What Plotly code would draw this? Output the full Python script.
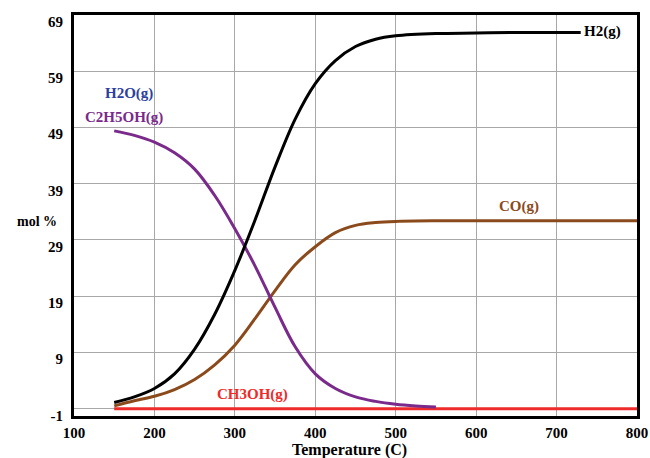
import plotly.graph_objects as go

# ---- data ----
T_H2 = [150, 175, 200, 225, 250, 275, 300, 325, 350, 375, 400, 425, 450, 475, 500, 550, 600, 650, 730]
H2 = [0.1, 1.1, 2.6, 5.2, 9.6, 15.8, 23.6, 32.5, 42.0, 50.5, 56.8, 60.9, 63.4, 64.7, 65.3, 65.7, 65.8, 65.9, 65.9]

T_CO = [150, 175, 200, 225, 250, 275, 300, 325, 350, 375, 400, 425, 450, 475, 500, 550, 800]
CO = [-0.5, 0.4, 1.2, 2.4, 4.2, 6.8, 10.3, 15.0, 20.0, 24.6, 27.8, 30.3, 31.6, 32.1, 32.3, 32.4, 32.4]

T_EtOH = [150, 175, 200, 225, 250, 275, 300, 325, 350, 375, 400, 425, 450, 475, 500, 525, 550]
EtOH = [48.4, 47.6, 46.4, 44.5, 41.6, 36.9, 31.0, 24.4, 17.0, 10.0, 5.2, 2.6, 1.1, 0.3, -0.2, -0.5, -0.7]

T_MeOH = [150, 800]
MeOH = [-1.0, -1.0]

x_ticks = [100, 200, 300, 400, 500, 600, 700, 800]
y_ticks = [-1, 9, 19, 29, 39, 49, 59, 69]
y_tick_text = [str(v) for v in y_ticks]

labels = [
    ("H2(g)", 731, 66.1, "#000000", "left"),
    ("CO(g)", 653, 34.9, "#8B4A1C", "center"),
    ("CH3OH(g)", 322, 1.6, "#EE2A2A", "center"),
    ("H2O(g)", 168, 55.0, "#2D3FA0", "center"),
    ("C2H5OH(g)", 162, 50.7, "#7A2A8A", "center"),
]

FONT = "Liberation Serif"

fig = go.Figure()
fig.add_trace(go.Scatter(x=T_MeOH, y=MeOH, mode="lines", line=dict(color="#EE2A2A", width=3), hoverinfo="skip"))
fig.add_trace(go.Scatter(x=T_CO, y=CO, mode="lines", line=dict(color="#8B4A1C", width=3, shape="spline", smoothing=1.0), hoverinfo="skip"))
fig.add_trace(go.Scatter(x=T_EtOH, y=EtOH, mode="lines", line=dict(color="#7A2A8A", width=3, shape="spline", smoothing=1.0), hoverinfo="skip"))
fig.add_trace(go.Scatter(x=T_H2, y=H2, mode="lines", line=dict(color="#000000", width=3, shape="spline", smoothing=1.0), hoverinfo="skip"))
# invisible trace to carry the tick-label axis
fig.add_trace(go.Scatter(x=[None], y=[None], yaxis="y2", mode="lines", showlegend=False, hoverinfo="skip"))

for text, x, y, color, anchor in labels:
    fig.add_annotation(x=x, y=y, xref="x", yref="y", text=f"<b>{text}</b>", showarrow=False,
                       xanchor=anchor, yanchor="middle",
                       font=dict(family=FONT, size=15, color=color))

fig.add_annotation(x=-0.065, y=32.2, xref="paper", yref="y", text="<b>mol %</b>", showarrow=False,
                   xanchor="center", yanchor="middle", font=dict(family=FONT, size=14, color="#000"))
fig.add_annotation(x=0.49, y=-0.085, xref="paper", yref="paper", text="<b>Temperature (C)</b>", showarrow=False,
                   xanchor="center", yanchor="middle", font=dict(family=FONT, size=16, color="#000"))

yr = [-2.3, 69]
label_shift = 1.2

fig.update_layout(
    width=650, height=458,
    margin=dict(l=74, r=13, t=15, b=42, autoexpand=False),
    paper_bgcolor="white", plot_bgcolor="white",
    showlegend=False,
    xaxis=dict(range=[100, 800], tickvals=x_ticks, ticktext=[str(v) for v in x_ticks],
               showgrid=True, gridcolor="#a8a8a8", gridwidth=1,
               showline=True, linecolor="black", linewidth=3, mirror=True,
               ticks="", ticklabelstandoff=1, automargin=False,
               tickfont=dict(family=FONT, size=15, color="black", weight="bold"),
               zeroline=False),
    yaxis=dict(range=yr, tickvals=y_ticks, showticklabels=False,
               showgrid=True, gridcolor="#a8a8a8", gridwidth=1,
               showline=True, linecolor="black", linewidth=3, mirror=True,
               ticks="", zeroline=False, automargin=False),
    yaxis2=dict(range=yr, overlaying="y", side="left", anchor="x",
                tickvals=[v - label_shift for v in y_ticks], ticktext=y_tick_text,
                showgrid=False, showline=False, zeroline=False, ticks="",
                ticklabelstandoff=10, automargin=False,
                tickfont=dict(family=FONT, size=15, color="black", weight="bold")),
)

fig.write_html("out.html")
